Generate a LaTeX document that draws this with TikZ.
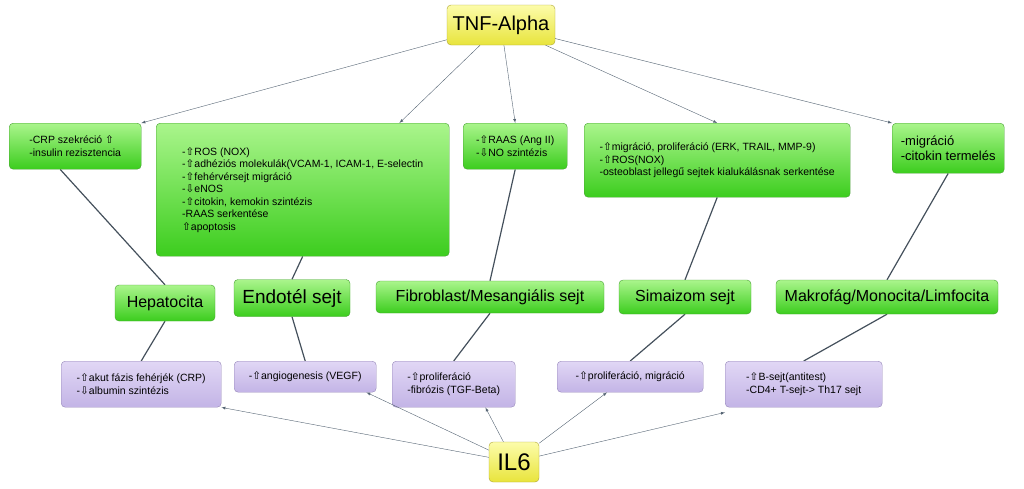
\documentclass[tikz,border=0pt]{standalone}
\usepackage{fontspec}
\setmainfont{Liberation Sans}
\newfontfamily\arrfont{DejaVu Sans}
\usepackage{tikz}
\usetikzlibrary{backgrounds}
\definecolor{boxgreenA}{RGB}{170,245,140}
\definecolor{boxgreenB}{RGB}{60,205,30}
\definecolor{boxgreenD}{RGB}{70,160,50}
\definecolor{boxlilaA}{RGB}{225,215,245}
\definecolor{boxlilaB}{RGB}{195,180,230}
\definecolor{boxlilaD}{RGB}{150,135,185}
\definecolor{boxyelA}{RGB}{252,252,170}
\definecolor{boxyelB}{RGB}{232,228,60}
\definecolor{boxyelD}{RGB}{175,165,50}
\definecolor{linkgray}{RGB}{85,100,115}
\newcommand{\fel}{{\arrfont\char"21E7}}
\newcommand{\lent}{{\arrfont\char"21E9}}

\begin{document}
\begin{tikzpicture}[
  x=1pt, y=-1pt,
  effect/.style={rectangle, rounded corners=4pt, draw=boxgreenD, top color=boxgreenA, bottom color=boxgreenB, align=left, anchor=north west, inner sep=5pt, font=\fontsize{10.5}{12.5}\selectfont},
  cell/.style={rectangle, rounded corners=4pt, draw=boxgreenD, top color=boxgreenA, bottom color=boxgreenB, align=center, font=\fontsize{16}{18}\selectfont},
  il/.style={rectangle, rounded corners=4pt, draw=boxlilaD, top color=boxlilaA, bottom color=boxlilaB, align=left, anchor=north west, inner sep=5pt, font=\fontsize{10.5}{12.5}\selectfont},
  cytokine/.style={rectangle, rounded corners=4pt, draw=boxyelD, top color=boxyelA, bottom color=boxyelB, align=center, font=\fontsize{20}{22}\selectfont},
  arrow/.style={->, >=latex, color=linkgray},
  link/.style={color=linkgray!80!black, line width=1.2pt}
]
\useasboundingbox (0,0) rectangle (1024,488);

% Cytokines
\node[cytokine, minimum width=108pt, minimum height=40pt] (tnf) at (501,25) {TNF-Alpha};
\node[cytokine, minimum width=50pt, minimum height=40pt, font=\fontsize{24}{26}\selectfont] (il6) at (514,462) {IL6};

% TNF-Alpha effects
\node[effect, minimum width=132pt, minimum height=46pt] (e1) at (9,123) {-CRP szekréció \fel\\-insulin rezisztencia};
\node[effect, minimum width=293pt, minimum height=133pt] (e2) at (156,123) {-\fel ROS (NOX)\\-\fel adhéziós molekulák(VCAM-1, ICAM-1, E-selectin\\-\fel fehérvérsejt migráció\\-\lent eNOS\\-\fel citokin, kemokin szintézis\\-RAAS serkentése\\\fel apoptosis};
\node[effect, minimum width=104pt, minimum height=46pt] (e3) at (463,123) {-\fel RAAS (Ang II)\\-\lent NO szintézis};
\node[effect, minimum width=266pt, minimum height=74pt] (e4) at (584,123) {-\fel migráció, proliferáció (ERK, TRAIL, MMP-9)\\-\fel ROS(NOX)\\-osteoblast jellegű sejtek kialukálásnak serkentése};
\node[effect, minimum width=112pt, minimum height=50pt, font=\fontsize{13}{15}\selectfont] (e5) at (892,123) {-migráció\\-citokin termelés};

% Cells
\node[cell, minimum width=100pt, minimum height=36pt] (c1) at (165,303) {Hepatocita};
\node[cell, minimum width=116pt, minimum height=37pt, font=\fontsize{19}{21}\selectfont] (c2) at (292,298) {Endotél sejt};
\node[cell, minimum width=228pt, minimum height=32pt] (c3) at (490,297) {Fibroblast/Mesangiális sejt};
\node[cell, minimum width=132pt, minimum height=34pt] (c4) at (685,297) {Simaizom sejt};
\node[cell, minimum width=222pt, minimum height=34pt] (c5) at (887,297) {Makrofág/Monocita/Limfocita};

% IL6 effects
\node[il, minimum width=160pt, minimum height=46pt] (i1) at (61,361) {-\fel akut fázis fehérjék (CRP)\\-\lent albumin szintézis};
\node[il, minimum width=142pt, minimum height=31pt] (i2) at (234,361) {-\fel angiogenesis (VEGF)};
\node[il, minimum width=123pt, minimum height=46pt] (i3) at (392,361) {-\fel proliferáció\\-fibrózis (TGF-Beta)};
\node[il, minimum width=146pt, minimum height=31pt] (i4) at (557,361) {-\fel proliferáció, migráció};
\node[il, minimum width=157pt, minimum height=46pt] (i5) at (725,361) {-\fel B-sejt(antitest)\\-CD4+ T-sejt-> Th17 sejt};

% Links through the cells
\begin{pgfonlayer}{background}
\draw[link] ([xshift=-15pt]e1.south) -- (c1.north);
\draw[link] (e2.south) -- (c2.north);
\draw[link] (e3.south) -- (c3.north);
\draw[link] (e4.south) -- (c4.north);
\draw[link] (e5.south) -- (c5.north);
\draw[link] (c1.south) -- (i1.north);
\draw[link] (c2.south) -- (i2.north);
\draw[link] (c3.south) -- (i3.north);
\draw[link] (c4.south) -- (i4.north);
\draw[link] (c5.south) -- (i5.north);
\end{pgfonlayer}

% TNF-Alpha arrows
\draw[arrow] (tnf) -- (e1.north east);
\draw[arrow] (tnf) -- ([xshift=-50pt]e2.north east);
\draw[arrow] (tnf) -- (e3.north);
\draw[arrow] (tnf) -- (e4.north);
\draw[arrow] (tnf) -- (e5.north west);

% IL6 arrows
\draw[arrow] (il6) -- (i1.south east);
\draw[arrow] (il6) -- ([xshift=-10pt]i2.south east);
\draw[arrow] (il6) -- ([xshift=-30pt]i3.south east);
\draw[arrow] (il6) -- ([xshift=50pt]i4.south west);
\draw[arrow] (il6) -- ([yshift=-5pt]i5.south west);
\end{tikzpicture}
\end{document}
